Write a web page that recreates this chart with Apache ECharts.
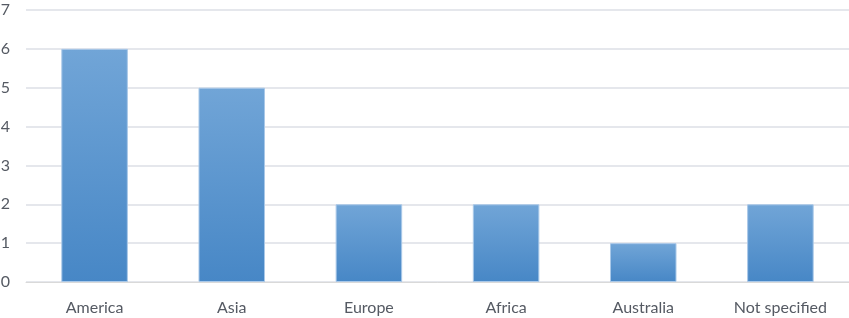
<!DOCTYPE html>
<html><head><meta charset="utf-8">
<script src="https://cdn.jsdelivr.net/npm/echarts@6/dist/echarts.min.js"></script>
<style>html,body{margin:0;padding:0;background:#fff}#c{width:849px;height:318px}</style>
</head><body><div id="c"></div>
<script>
const categories = ['America', 'Asia', 'Europe', 'Africa', 'Australia', 'Not specified'];
const values = [6, 5, 2, 2, 1, 2];
const yTicks = { min: 0, max: 7, interval: 1 };

const chart = echarts.init(document.getElementById('c'), null, { renderer: 'canvas' });
chart.setOption({
  animation: false,
  backgroundColor: '#ffffff',
  grid: { left: 26, right: 0, top: 10, bottom: 36, containLabel: false, outerBoundsMode: 'none' },
  xAxis: {
    type: 'category', data: categories,
    axisLine: { show: true, lineStyle: { color: '#d9d9d9', width: 1 } },
    axisTick: { show: false },
    axisLabel: { color: '#555a63', fontSize: 16, fontFamily: 'Lato', margin: 18 }
  },
  yAxis: {
    type: 'value', min: yTicks.min, max: yTicks.max, interval: yTicks.interval,
    axisLine: { show: false }, axisTick: { show: false },
    splitLine: { lineStyle: { color: '#dcdfe6', width: 1.5 } },
    axisLabel: { color: '#555a63', fontSize: 16, fontFamily: 'Lato', margin: 16 }
  },
  series: [{
    type: 'bar', data: values, barWidth: '48.5%',
    itemStyle: {
      color: new echarts.graphic.LinearGradient(0, 0, 0, 1, [
        { offset: 0, color: '#71a5d7' },
        { offset: 1, color: '#4787c6' }
      ]),
      borderColor: '#a9c8e8', borderWidth: 1
    }
  }]
});
</script></body></html>
